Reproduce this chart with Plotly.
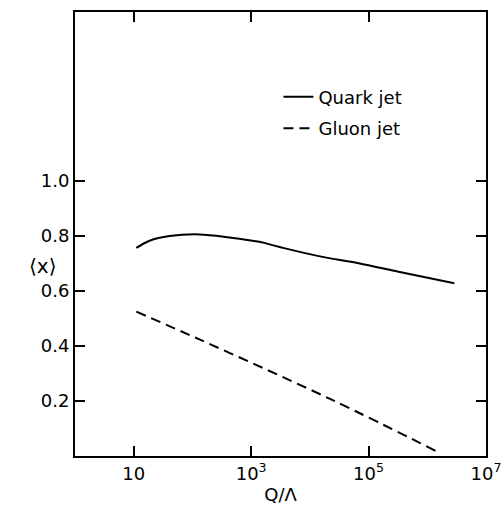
import plotly.graph_objects as go

# Data (x = Q/Lambda, log scale)
quark_logq = [1.045, 1.27, 1.61, 2.12, 2.63, 3.14, 3.47, 4.15, 4.83, 5.51, 6.46]
quark_x = [0.757, 0.783, 0.800, 0.806, 0.795, 0.779, 0.761, 0.727, 0.701, 0.670, 0.628]
gluon_logq = [1.045, 2.12, 4.38, 6.14]
gluon_x = [0.525, 0.424, 0.204, 0.019]

x_tickvals = [1e1, 1e3, 1e5, 1e7]
x_ticktext = ["10", "10<sup>3</sup>", "10<sup>5</sup>", "10<sup>7</sup>"]
y_tickvals = [0.2, 0.4, 0.6, 0.8, 1.0]
y_ticktext = ["0.2", "0.4", "0.6", "0.8", "1.0"]

quark_q = [10 ** v for v in quark_logq]
gluon_q = [10 ** v for v in gluon_logq]

FONT = "DejaVu Sans"

fig = go.Figure()
fig.add_trace(go.Scatter(x=quark_q, y=quark_x, mode="lines", name="Quark jet",
                         legendgroup="q",
                         line=dict(color="black", width=2, shape="spline")))
fig.add_trace(go.Scatter(x=gluon_q, y=gluon_x, mode="lines", name="Gluon jet",
                         legendgroup="g",
                         line=dict(color="black", width=2, dash="10px,6px", shape="spline")))

tick_style = dict(ticks="inside", ticklen=10, tickwidth=1.5, tickcolor="black",
                  showgrid=False, zeroline=False)

fig.update_layout(
    width=503, height=506,
    margin=dict(l=75, r=17, t=12, b=50, autoexpand=False),
    paper_bgcolor="white", plot_bgcolor="white",
    font=dict(family=FONT, size=18, color="black"),
    showlegend=True,
    legend=dict(x=0.495, y=0.85, xanchor="left", yanchor="top",
                bgcolor="rgba(0,0,0,0)", font=dict(size=18, family=FONT),
                itemwidth=30, tracegroupgap=5),
    xaxis=dict(type="log", range=[0, 7], tickvals=x_tickvals, ticktext=x_ticktext,
               ticklabeloverflow="allow",
               showline=True, linecolor="black", linewidth=2, mirror="ticks",
               title=dict(text="Q/Λ", standoff=2, font=dict(size=18)), **tick_style),
    yaxis=dict(range=[0, 1.615], tickvals=y_tickvals, ticktext=y_ticktext,
               showline=True, linecolor="black", linewidth=2, mirror="ticks",
               **tick_style),
    annotations=[dict(text="⟨x⟩", x=-0.116, y=0.428, xref="paper", yref="paper",
                      showarrow=False, font=dict(size=20, family=FONT))],
)

# remove the default 8px page margin so the figure fills the window exactly
fig.write_html("out.html", config={"displayModeBar": False},
               post_script="document.body.style.margin='0';document.body.style.overflow='hidden';")
